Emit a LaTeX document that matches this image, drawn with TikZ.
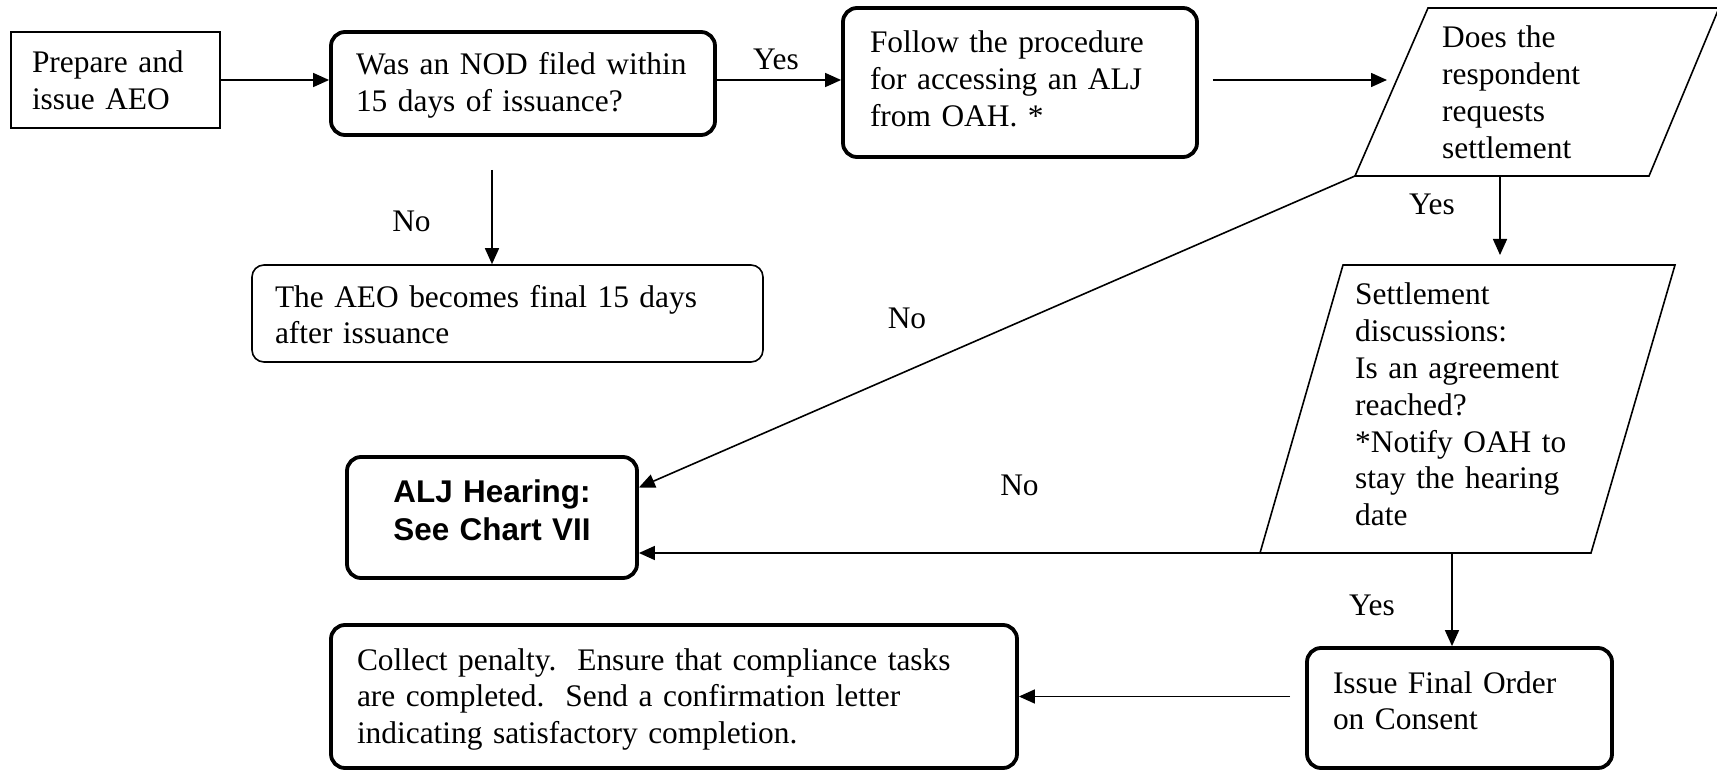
\documentclass[tikz,border=0pt]{standalone}
\usepackage{fontspec}
\setmainfont{Liberation Serif}
\setsansfont{Liberation Sans}
\usetikzlibrary{arrows.meta,calc}
\begin{document}
\begin{tikzpicture}[x=1pt,y=-1pt,
  txt/.style={font=\fontsize{31.4}{36.8}\selectfont},
  thinbox/.style={draw, line width=1.6pt, txt, align=left, inner ysep=0pt, text height=21.4pt},
  thickbox/.style={draw, line width=3.8pt, rounded corners=14pt, txt, align=left, inner ysep=0pt, text height=21.4pt},
  lab/.style={txt, anchor=base, inner sep=0pt},
  ptext/.style={txt, anchor=base west, inner sep=0pt, align=left},
  conn/.style={line width=1.6pt},
  arr/.style={line width=1.6pt, -{Triangle[length=16pt,width=14pt]}}
]
\useasboundingbox (0,0) rectangle (1717,770);

% boxes
\node[thinbox, minimum width=209pt, minimum height=96pt, text width=167pt, inner xsep=21pt, text depth=35.4pt] (prep) at (115.5,80) {Prepare and\\issue AEO};
\node[thickbox, minimum width=384pt, minimum height=103pt, text width=334pt, inner xsep=25pt, text depth=38.4pt] (nod) at (523,83.5) {Was an NOD filed within\\15 days of issuance?};
\node[thickbox, minimum width=354pt, minimum height=149pt, text width=300pt, inner xsep=27pt, text depth=80.4pt] (fol) at (1020,82.5) {Follow the procedure\\for accessing an ALJ\\from OAH. *};
\node[thinbox, rounded corners=12pt, minimum width=511pt, minimum height=97pt, text width=465pt, inner xsep=23pt, text depth=34.4pt] (aeo) at (507.5,313.5) {The AEO becomes final 15 days\\after issuance};
\node[thickbox, align=center, font=\fontsize{31.4}{38}\selectfont\sffamily\bfseries, minimum width=290pt, minimum height=121pt, text width=250pt, inner xsep=20pt, text height=22.5pt, text depth=53.5pt] (alj) at (492,517.5) {ALJ Hearing:\\See Chart VII};
\node[thickbox, minimum width=686pt, minimum height=143pt, text width=634pt, inner xsep=26pt, text depth=74.4pt] (col) at (674,696.5) {Collect penalty.~~Ensure that compliance tasks\\are completed.~~Send a confirmation letter\\indicating satisfactory completion.};
\node[thickbox, minimum width=305pt, minimum height=120pt, text width=253pt, inner xsep=26pt, text depth=51.4pt] (iss) at (1459.5,708) {Issue Final Order\\on Consent};

% parallelograms
\coordinate (p1tl) at (1428,8);
\coordinate (p1tr) at (1719,8);
\coordinate (p1br) at (1649,176);
\coordinate (p1bl) at (1355,176);
\draw[conn] (p1tl) -- (p1tr) -- (p1br) -- (p1bl) -- cycle;
\node[ptext, text width=200pt] (p1) at (1442,48) {Does the\\respondent\\requests\\settlement};

\coordinate (p2tl) at (1343,265);
\coordinate (p2tr) at (1675,265);
\coordinate (p2br) at (1591,553);
\coordinate (p2bl) at (1260,553);
\draw[conn] (p2tl) -- (p2tr) -- (p2br) -- (p2bl) -- cycle;
\node[ptext, text width=240pt] (p2) at (1355,305) {Settlement\\discussions:\\Is an agreement\\reached?\\{}*Notify OAH to\\stay the hearing\\date};

% labels
\node[lab] (yes1) at (776,70) {Yes};
\node[lab] (no1) at (411.5,232) {No};
\node[lab] (yes2) at (1432,215) {Yes};
\node[lab] (no2) at (907,328) {No};
\node[lab] (no3) at (1019.5,495) {No};
\node[lab] (yes3) at (1372,615) {Yes};

% connectors
\coordinate (p1w) at (1397,80);
\coordinate (p1s) at (1500,176);
\coordinate (p2n) at (1500,265);
\coordinate (p2s) at (1452,553);
\coordinate (dx) at (492,0);
\draw[arr] (prep.east) -- (prep.east -| nod.west);
\draw[arr] (nod.east |- prep.east) -- (fol.west |- prep.east);
\draw[arr, shorten <=14pt, shorten >=10pt] (fol.east |- prep.east) -- (p1w);
\draw[arr, shorten >=10pt] (p1s) -- (p2n);
\draw[arr, shorten <=33pt] (nod.south -| dx) -- (aeo.north -| dx);
\draw[arr] (p1bl) -- ($(alj.east)+(0,-30)$);
\draw[arr] (p2bl) -- (alj.east |- p2bl);
\draw[arr] (p2s) -- (iss.north -| p2s);
\draw[arr, shorten <=15pt] (iss.west |- col.east) -- (col.east);
\end{tikzpicture}
\end{document}
